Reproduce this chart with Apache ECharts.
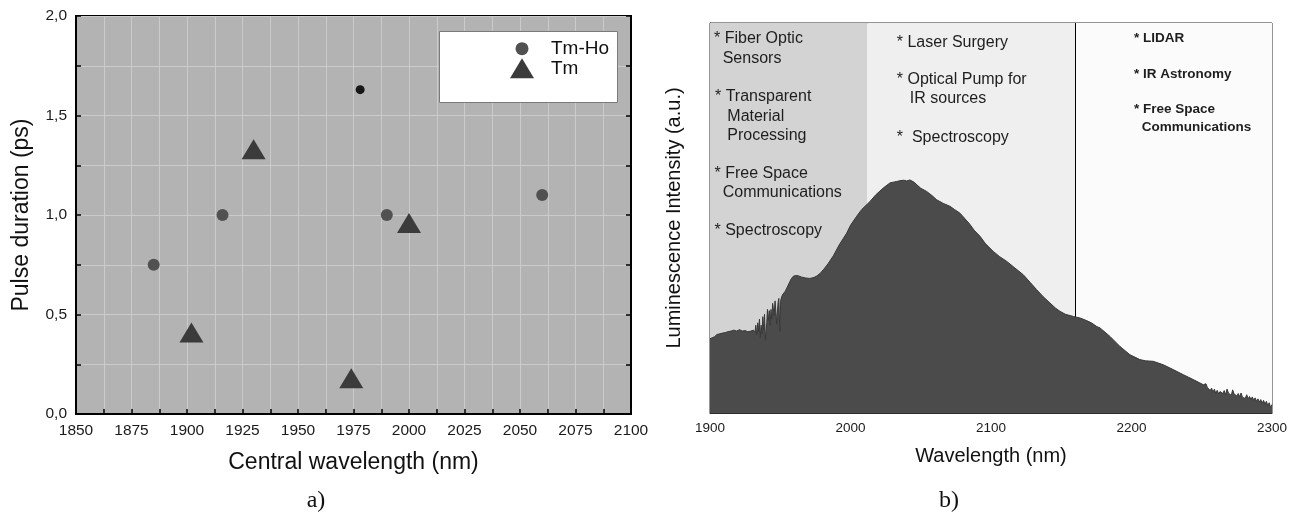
<!DOCTYPE html>
<html>
<head>
<meta charset="utf-8">
<title>Pulse duration and luminescence spectrum</title>
<script src="https://cdn.jsdelivr.net/npm/echarts/dist/echarts.min.js"></script>
<style>
  html, body { margin: 0; padding: 0; background: #ffffff; }
  #chart { width: 1300px; height: 524px; }
</style>
</head>
<body>
<div id="chart"></div>
<script>
// ---- Panel a): pulse duration versus central wavelength ----
const tmHoWavelength = [1885, 1916, 1990, 2060];
const tmHoDuration   = [0.75, 1.00, 1.00, 1.10];
const tmHoSmallWavelength = [1978];
const tmHoSmallDuration   = [1.63];
const tmWavelength = [1902, 1930, 1974, 2000];
const tmDuration   = [0.41, 1.33, 0.18, 0.96];

// ---- Panel b): luminescence spectrum ----
const spectrumWavelength = [
  1900, 1901, 1903, 1905, 1907, 1909, 1911, 1913, 1915, 1917, 1919, 1921, 1923, 1925, 1927, 1929, 1931,
  1932, 1932.6, 1933.2, 1934, 1934.6, 1935.2, 1935.8, 1936.4, 1937, 1937.6, 1938.2, 1938.8, 1939.4, 1939.9,
  1940.4, 1940.9, 1941.5, 1942.2, 1942.8, 1943.4, 1944.0, 1944.6, 1945.1, 1945.7, 1946.3, 1946.9, 1947.5,
  1947.9, 1948.5, 1949.0, 1949.5, 1949.8, 1950.3, 1951.0, 1952.0, 1952.7, 1953.6, 1954.6, 1955.7, 1956.9,
  1958, 1959.3, 1961, 1962.8, 1965, 1968, 1971, 1974, 1976, 1978.3, 1981, 1984, 1987.8, 1992, 1997.3, 2000,
  2004.4, 2008, 2013.9, 2018, 2023.3, 2028.1, 2032.9, 2035.2, 2038, 2040, 2042.3, 2045, 2047.1, 2050, 2054.2,
  2058, 2061.3, 2066, 2070.8, 2074, 2077.9, 2081, 2085.1, 2088, 2092.2, 2096, 2101.6, 2106, 2111.2, 2117,
  2123.0, 2128, 2132.5, 2137, 2142.0, 2146, 2149.1, 2153, 2158.6, 2163.3, 2168.1, 2172, 2175.2, 2177.6,
  2184.7, 2191.8, 2198.9, 2206.0, 2210, 2215.5, 2222.6, 2229.7, 2236.9, 2244.0, 2251.1,
  2253, 2254, 2255, 2256, 2257, 2258, 2259, 2260, 2261, 2262, 2263, 2264, 2265, 2266, 2267, 2268, 2269,
  2270, 2271, 2272, 2273, 2274, 2275, 2276, 2277, 2278, 2279, 2280, 2281, 2282, 2283, 2284, 2285, 2286,
  2287, 2288, 2289, 2290, 2291, 2292, 2293, 2294, 2295, 2296, 2297, 2298, 2299, 2300
];
const spectrumIntensity = [
  3.05, 3.10, 3.12, 3.22, 3.25, 3.28, 3.30, 3.34, 3.36, 3.40, 3.36, 3.42, 3.36, 3.38, 3.33, 3.36, 3.40,
  3.30, 3.60, 3.20, 3.70, 3.35, 3.85, 3.10, 3.60, 3.25, 3.95, 3.40, 4.05, 3.00, 2.94,
  3.70, 4.25, 3.80, 4.20, 3.60, 4.25, 3.85, 4.50, 4.55, 4.00, 4.60, 4.15, 3.65,
  4.10, 4.55, 4.70, 3.70, 3.35, 4.60, 4.78, 4.88, 4.95, 5.00, 5.06, 5.25, 5.40,
  5.52, 5.61, 5.64, 5.63, 5.58, 5.54, 5.52, 5.56, 5.62, 5.72, 5.90, 6.12, 6.45, 6.90, 7.38, 7.70,
  8.07, 8.35, 8.68, 8.95, 9.23, 9.44, 9.50, 9.53, 9.55, 9.52, 9.56, 9.48, 9.37, 9.22, 9.09,
  8.92, 8.75, 8.60, 8.48, 8.35, 8.20, 8.00, 7.73, 7.50, 7.25, 6.95, 6.63, 6.42, 6.22, 5.95,
  5.67, 5.35, 5.06, 4.78, 4.51, 4.30, 4.17, 4.05, 3.96, 3.90, 3.79, 3.68, 3.55, 3.49,
  3.14, 2.73, 2.39, 2.19, 2.14, 2.12, 1.98, 1.78, 1.57, 1.37, 1.16,
  1.20, 1.05, 1.12, 0.92, 1.02, 0.85, 0.98, 0.80, 0.93, 0.78, 0.88, 0.95, 0.80, 0.92, 0.75, 0.98, 0.82,
  0.90, 0.72, 0.95, 0.78, 0.85, 0.70, 0.80, 0.66, 0.82, 0.64, 0.72, 0.60, 0.75, 0.58, 0.68, 0.55, 0.66,
  0.52, 0.62, 0.48, 0.58, 0.45, 0.55, 0.40, 0.52, 0.36, 0.48, 0.30, 0.42, 0.22, 0.35
];
// Application bands along the wavelength axis and the divider between the last two
const regionEdges = [1900, 2012, 2160, 2300];
const dividerWavelength = 2160;
const dividerFrom = 3.9;

// Application notes per band
const bandNotesShort = ['* Fiber Optic', 'Sensors', '* Transparent', 'Material', 'Processing',
  '* Free Space', 'Communications', '* Spectroscopy'];
const bandNotesMid = ['* Laser Surgery', '* Optical Pump for', 'IR sources', '*  Spectroscopy'];
const bandNotesLong = ['* LIDAR', '* IR Astronomy', '* Free Space', 'Communications'];

const SANS = '"Liberation Sans", Arial, sans-serif';
const SERIF = '"Liberation Serif", "Times New Roman", serif';

const zipPairs = (xs, ys) => xs.map((x, i) => [x, ys[i]]);

function noteText(text, x, y, size, weight) {
  return {
    type: 'text', z: 30,
    style: {
      text: text, x: x, y: y,
      font: weight + ' ' + size + 'px ' + SANS,
      fill: '#1e1e1e',
      align: 'left', verticalAlign: 'middle',
      textAlign: 'left', textVerticalAlign: 'middle'
    }
  };
}

const shortPos = [[714, 39], [722.7, 59], [715, 97], [727.3, 116.7], [727.3, 135.7],
  [714.5, 173.3], [722.7, 192.3], [714.5, 230.5]];
const midPos = [[896.8, 42.3], [896.8, 80], [909.8, 99], [896.8, 137.7]];
const longPos = [[1134, 38], [1134, 74], [1134, 109], [1141.7, 127.3]];

const graphics = [
  // legend frame of panel a)
  { type: 'rect', z: 15, shape: { x: 439.5, y: 31.5, width: 178, height: 71 },
    style: { fill: '#ffffff', stroke: '#7a7a7a', lineWidth: 1 } },
  { type: 'text', z: 30, style: { text: 'a)', x: 316, y: 501, font: '24px ' + SERIF, fill: '#111',
    align: 'center', verticalAlign: 'middle', textAlign: 'center', textVerticalAlign: 'middle' } },
  { type: 'text', z: 30, style: { text: 'b)', x: 949, y: 501, font: '24px ' + SERIF, fill: '#111',
    align: 'center', verticalAlign: 'middle', textAlign: 'center', textVerticalAlign: 'middle' } }
];
bandNotesShort.forEach((t, i) => graphics.push(noteText(t, shortPos[i][0], shortPos[i][1], 16, 'normal')));
bandNotesMid.forEach((t, i) => graphics.push(noteText(t, midPos[i][0], midPos[i][1], 16, 'normal')));
bandNotesLong.forEach((t, i) => graphics.push(noteText(t, longPos[i][0], longPos[i][1], 13.5, 'bold')));

const commaDecimal = v => v.toFixed(1).replace('.', ',');
const plainNumber = v => String(v);

const gridLine = { show: true, lineStyle: { color: '#cbcbcb', width: 1 } };

const option = {
  animation: false,
  backgroundColor: '#ffffff',
  textStyle: { fontFamily: SANS },
  grid: [
    { left: 76, top: 16, right: 669, bottom: 110, show: true, backgroundColor: '#b3b3b3',
      borderColor: '#000', borderWidth: 2, containLabel: false, outerBoundsMode: 'none' },
    { left: 710, top: 23, right: 28, bottom: 111, show: true, backgroundColor: '#fbfbfb',
      borderColor: '#2a2a2a', borderWidth: 1, containLabel: false, outerBoundsMode: 'none' }
  ],
  xAxis: [
    {
      type: 'value', gridIndex: 0, min: 1850, max: 2100, interval: 25,
      name: 'Central wavelength (nm)', nameLocation: 'middle', nameGap: 37,
      nameTextStyle: { fontSize: 23, color: '#111', fontFamily: SANS },
      axisLine: { show: true, onZero: false, lineStyle: { color: '#000', width: 2 } },
      axisTick: { show: true, inside: true, length: 5, lineStyle: { color: '#000', width: 1.5 } },
      minorTick: { show: true, splitNumber: 2, length: 5, lineStyle: { color: '#000', width: 1.5 } },
      axisLabel: { show: true, fontSize: 15.5, color: '#1a1a1a', margin: 9, showMinLabel: true, showMaxLabel: true,
        fontFamily: SANS, formatter: plainNumber },
      splitLine: gridLine,
      minorSplitLine: gridLine
    },
    {
      type: 'value', gridIndex: 1, min: 1900, max: 2300, interval: 100,
      name: 'Wavelength (nm)', nameLocation: 'middle', nameGap: 33,
      nameTextStyle: { fontSize: 20, color: '#111', fontFamily: SANS },
      axisLine: { show: true, onZero: false, lineStyle: { color: '#2a2a2a', width: 1 } },
      axisTick: { show: false },
      axisLabel: { show: true, fontSize: 13.5, color: '#1a1a1a', margin: 8, showMinLabel: true, showMaxLabel: true,
        fontFamily: SANS, formatter: plainNumber },
      splitLine: { show: false }
    }
  ],
  yAxis: [
    {
      type: 'value', gridIndex: 0, min: 0, max: 2, interval: 0.5,
      name: 'Pulse duration (ps)', nameLocation: 'middle', nameGap: 43,
      nameTextStyle: { fontSize: 23, color: '#111', fontFamily: SANS },
      axisLine: { show: true, onZero: false, lineStyle: { color: '#000', width: 2 } },
      axisTick: { show: true, inside: true, length: 5, lineStyle: { color: '#000', width: 1.5 } },
      minorTick: { show: true, splitNumber: 2, length: 5, lineStyle: { color: '#000', width: 1.5 } },
      axisLabel: { show: true, fontSize: 15.5, color: '#1a1a1a', margin: 9, formatter: commaDecimal, fontFamily: SANS },
      splitLine: gridLine,
      minorSplitLine: gridLine
    },
    {
      type: 'value', gridIndex: 0, position: 'right', min: 0, max: 2, interval: 0.5,
      axisLine: { show: true, onZero: false, lineStyle: { color: '#000', width: 2 } },
      axisTick: { show: true, inside: true, length: 5, lineStyle: { color: '#000', width: 1.5 } },
      minorTick: { show: true, splitNumber: 2, length: 5, lineStyle: { color: '#000', width: 1.5 } },
      axisLabel: { show: false },
      splitLine: { show: false }
    },
    {
      type: 'value', gridIndex: 1, min: 0, max: 16, interval: 1,
      name: 'Luminescence Intensity (a.u.)', nameLocation: 'middle', nameGap: 26,
      nameTextStyle: { fontSize: 20, color: '#111', fontFamily: SANS },
      axisLine: { show: true, onZero: false, lineStyle: { color: '#2a2a2a', width: 1 } },
      axisTick: { show: true, inside: true, length: 4, lineStyle: { color: '#2a2a2a', width: 1 } },
      axisLabel: { show: false },
      splitLine: { show: false }
    }
  ],
  legend: [
    {
      data: [{ name: 'Tm-Ho', icon: 'circle' }], left: 515.5, top: 39.2, z: 20, padding: 0,
      itemWidth: 13, itemHeight: 13,
      itemStyle: { opacity: 1 },
      textStyle: { fontSize: 19, color: '#111', fontFamily: SANS, padding: [0, 0, 0, 17.5] },
      selectedMode: false
    },
    {
      data: [{ name: 'Tm', icon: 'triangle' }], left: 510, top: 58.3, z: 20, padding: 0,
      itemWidth: 24, itemHeight: 20,
      itemStyle: { opacity: 1 },
      textStyle: { fontSize: 19, color: '#111', fontFamily: SANS, padding: [0, 0, 0, 12] },
      selectedMode: false
    }
  ],
  graphic: graphics,
  series: [
    {
      name: 'Tm-Ho', type: 'scatter', xAxisIndex: 0, yAxisIndex: 0,
      symbol: 'circle', symbolSize: 12,
      itemStyle: { color: '#515151', opacity: 1 },
      data: zipPairs(tmHoWavelength, tmHoDuration), z: 3
    },
    {
      name: 'Tm-Ho (small)', type: 'scatter', xAxisIndex: 0, yAxisIndex: 0,
      symbol: 'circle', symbolSize: 9,
      itemStyle: { color: '#171717', opacity: 1 },
      data: zipPairs(tmHoSmallWavelength, tmHoSmallDuration), z: 3
    },
    {
      name: 'Tm', type: 'scatter', xAxisIndex: 0, yAxisIndex: 0,
      symbol: 'triangle', symbolSize: [24, 20],
      itemStyle: { color: '#3b3b3b', opacity: 1 },
      data: zipPairs(tmWavelength, tmDuration), z: 3
    },
    {
      name: 'bands', type: 'line', xAxisIndex: 1, yAxisIndex: 2, data: [], z: 1, silent: true,
      markArea: {
        silent: true, z: 1,
        data: [
          [{ xAxis: regionEdges[0], itemStyle: { color: '#d3d3d3' } }, { xAxis: regionEdges[1] }],
          [{ xAxis: regionEdges[1], itemStyle: { color: '#efefef' } }, { xAxis: regionEdges[2] }],
          [{ xAxis: regionEdges[2], itemStyle: { color: '#fbfbfb' } }, { xAxis: regionEdges[3] }]
        ]
      },
      markLine: {
        silent: true, z: 1, symbol: ['none', 'none'],
        label: { show: false },
        lineStyle: { color: '#000', width: 1, type: 'solid' },
        data: [[{ coord: [dividerWavelength, dividerFrom] }, { coord: [dividerWavelength, 16] }]]
      }
    },
    {
      name: 'Luminescence', type: 'line', xAxisIndex: 1, yAxisIndex: 2,
      data: zipPairs(spectrumWavelength, spectrumIntensity),
      symbol: 'none', showSymbol: false, smooth: false, z: 3,
      lineStyle: { color: '#383838', width: 1 },
      areaStyle: { color: '#4b4b4b', opacity: 1 }
    }
  ]
};

const chart = echarts.init(document.getElementById('chart'), null, { renderer: 'canvas' });
chart.setOption(option);
</script>
</body>
</html>
